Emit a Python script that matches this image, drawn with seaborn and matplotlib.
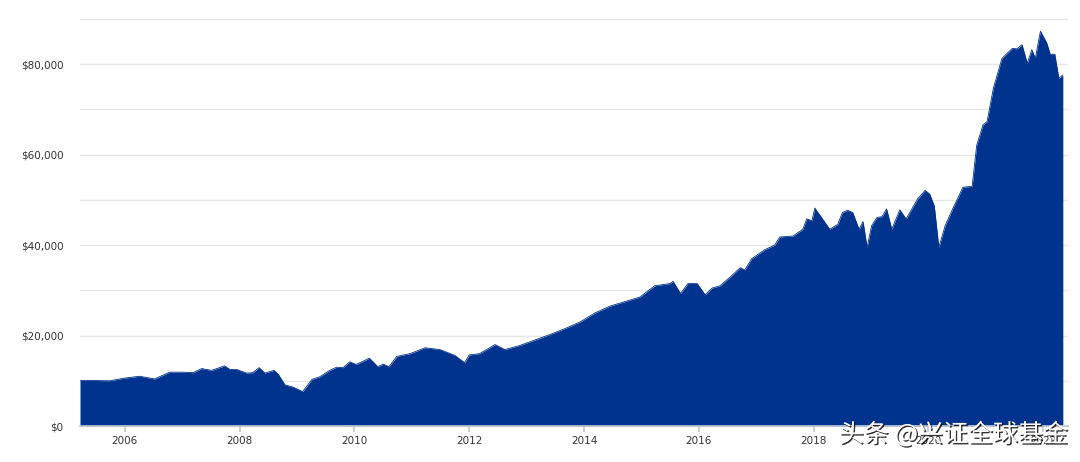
import matplotlib
matplotlib.use("Agg")
import matplotlib.pyplot as plt
import matplotlib.patheffects as pe
import seaborn as sns
import pandas as pd

years = [2005.22, 2005.27, 2005.74, 2006.0, 2006.26, 2006.52, 2006.78, 2007.01, 2007.19, 2007.34, 2007.51,
         2007.74, 2007.83, 2007.95, 2008.12, 2008.23, 2008.34, 2008.44, 2008.6, 2008.67, 2008.79, 2008.93,
         2009.1, 2009.26, 2009.4, 2009.57, 2009.69, 2009.8, 2009.92, 2010.03, 2010.13, 2010.26, 2010.41,
         2010.5, 2010.6, 2010.74, 2010.97, 2011.23, 2011.49, 2011.75, 2011.92, 2012.0, 2012.18, 2012.45,
         2012.62, 2012.88, 2013.14, 2013.4, 2013.66, 2013.93, 2014.19, 2014.45, 2014.71, 2014.97, 2015.23,
         2015.5, 2015.55, 2015.68, 2015.81, 2015.97, 2016.11, 2016.23, 2016.37, 2016.55, 2016.72, 2016.8,
         2016.92, 2017.15, 2017.32, 2017.41, 2017.64, 2017.81, 2017.88, 2017.97, 2018.02, 2018.28, 2018.42,
         2018.5, 2018.59, 2018.68, 2018.79, 2018.86, 2018.93, 2019.01, 2019.1, 2019.19, 2019.27, 2019.36,
         2019.5, 2019.61, 2019.71, 2019.81, 2019.94, 2020.02, 2020.1, 2020.18, 2020.29, 2020.42, 2020.6,
         2020.76, 2020.84, 2020.95, 2021.02, 2021.13, 2021.28, 2021.46, 2021.54, 2021.63, 2021.72, 2021.8,
         2021.86, 2021.95, 2022.06, 2022.12, 2022.2, 2022.27, 2022.34]
values_k = [10.0, 10.1, 10.0, 10.6, 11.0, 10.4, 11.9, 11.9, 11.8, 12.7, 12.3,
            13.3, 12.5, 12.5, 11.7, 11.8, 12.9, 11.7, 12.3, 11.5, 9.1, 8.6,
            7.6, 10.3, 10.9, 12.3, 13.0, 12.9, 14.2, 13.6, 14.2, 15.0, 13.1,
            13.7, 13.1, 15.4, 16.0, 17.3, 16.9, 15.6, 14.0, 15.7, 16.0, 18.0,
            16.9, 17.8, 19.0, 20.2, 21.5, 23.0, 25.0, 26.5, 27.5, 28.5, 31.0,
            31.5, 32.0, 29.3, 31.5, 31.5, 29.0, 30.5, 31.0, 33.0, 35.0, 34.5,
            37.0, 39.0, 40.0, 41.8, 42.0, 43.5, 45.8, 45.4, 48.2, 43.5, 44.6,
            47.2, 47.7, 47.2, 43.5, 45.2, 39.5, 44.3, 46.1, 46.3, 48.0, 43.5,
            47.8, 45.8, 48.0, 50.2, 52.1, 51.3, 48.7, 39.5, 44.3, 48.0, 52.8,
            53.0, 62.1, 66.6, 67.3, 74.7, 81.3, 83.5, 83.4, 84.3, 80.2, 83.2,
            81.3, 87.3, 84.7, 82.2, 82.2, 76.9, 77.6]
y_ticks = [0, 20000, 40000, 60000, 80000]
y_tick_labels = ["$0", "$20,000", "$40,000", "$60,000", "$80,000"]
x_ticks = [2006, 2008, 2010, 2012, 2014, 2016, 2018, 2020, 2022]

df = pd.DataFrame({"year": years, "value": [v * 1000 for v in values_k]})

sns.set_theme(style="white")
plt.rcParams['font.family'] = ['DejaVu Sans']
fig = plt.figure(figsize=(10.8, 4.62), dpi=100)
ax = fig.add_axes([80/1080, 1-426/462, (1068-80)/1080, (426-19)/462])

blue = "#00338e"
ax.fill_between(df["year"], 0, df["value"], color=blue, linewidth=0)
sns.lineplot(data=df, x="year", y="value", ax=ax, color=blue, linewidth=0.6)

ax.set_xlim(2005.22, 2022.43)
ax.set_ylim(0, 90000)
ax.set_yticks(range(0, 90001, 10000))
ax.set_yticklabels(["" if v % 20000 else y_tick_labels[v // 20000] for v in range(0, 90001, 10000)])
ax.set_xticks(x_ticks)
ax.set_xticklabels([str(x) for x in x_ticks])
ax.grid(axis="y", color="#e6e6e6", linewidth=1)
ax.set_axisbelow(True)
for s in ["top", "right", "left"]:
    ax.spines[s].set_visible(False)
ax.spines["bottom"].set_color("#c0c8d8")
ax.tick_params(axis="y", length=0, labelsize=7.5, labelcolor="#333333", pad=12)
ax.tick_params(axis="x", length=4, color="#c0c8d8", labelsize=7.5, labelcolor="#333333", bottom=True)
ax.set_xlabel("")
ax.set_ylabel("")

fig.text(1068/1080, 14/462, "头条 @兴证全球基金", ha="right", va="bottom", fontsize=18,
         color="white", family=["Noto Sans CJK SC", "DejaVu Sans"],
         path_effects=[pe.withSimplePatchShadow(offset=(1, -1), shadow_rgbFace="black", alpha=0.8)])

fig.savefig("out.png", dpi=100)
